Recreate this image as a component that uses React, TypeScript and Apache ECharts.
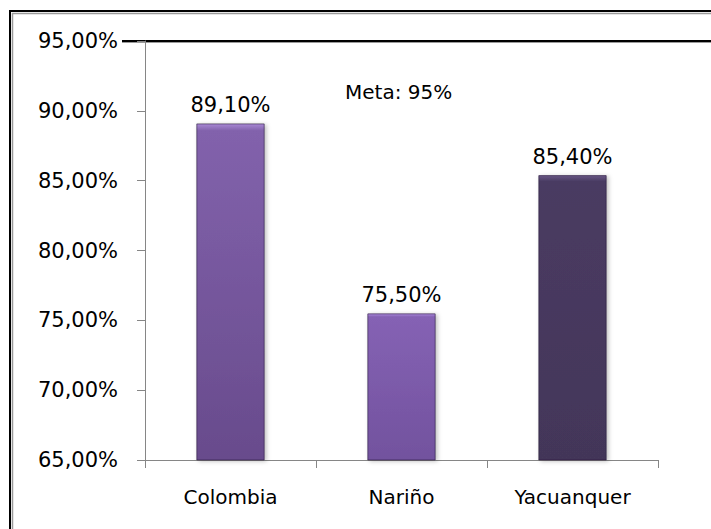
import React, { useEffect, useRef } from "react";
import * as echarts from "echarts";

const categories = ["Colombia", "Nariño", "Yacuanquer"];
const values = [89.1, 75.5, 85.4];
const metaValue = 95;
const metaLabel = "Meta: 95%";
const yMin = 65;
const yMax = 95;
const yInterval = 5;

const barColors = [
  ["#a888d4", "#8262ac", "#684b8c"],
  ["#ac8ade", "#8562b4", "#72529e"],
  ["#6a5886", "#4a3b62", "#433659"],
];

const fmt = (v: number) => v.toFixed(2).replace(".", ",") + "%";

export default function App() {
  const ref = useRef<HTMLDivElement>(null);
  useEffect(() => {
    if (!ref.current) return;
    const chart = echarts.init(ref.current, undefined, { renderer: "svg" });
    const font = "'DejaVu Sans', Verdana, sans-serif";
    const option: any = {
      animation: false,
      backgroundColor: "#ffffff",
      grid: { left: 145, right: 53, top: 41, bottom: 69, containLabel: false },
      xAxis: {
        type: "category",
        data: categories,
        boundaryGap: true,
        axisLine: { lineStyle: { color: "#868686", width: 1 } },
        axisTick: { show: true, length: 8, lineStyle: { color: "#868686" }, alignWithLabel: false },
        axisLabel: { color: "#000", fontSize: 20, fontFamily: font, margin: 27 },
      },
      yAxis: {
        type: "value",
        min: yMin,
        max: yMax,
        interval: yInterval,
        axisLine: { show: true, lineStyle: { color: "#868686", width: 1 } },
        axisTick: { show: true, length: 8, lineStyle: { color: "#868686" } },
        splitLine: { show: false },
        axisLabel: { color: "#000", fontSize: 21, fontFamily: font, margin: 27, formatter: (v: number) => fmt(v) },
      },
      series: [
        {
          type: "bar",
          barWidth: "40%",
          data: values.map((v, i) => ({
            value: v,
            itemStyle: {
              color: new echarts.graphic.LinearGradient(0, 0, 0, 1, [
                { offset: 0, color: barColors[i][0] },
                { offset: 0.02, color: barColors[i][1] },
                { offset: 1, color: barColors[i][2] },
              ]),
              borderColor: "rgba(40,25,60,0.6)",
              borderWidth: 1,
              shadowColor: "rgba(0,0,0,0.25)",
              shadowBlur: 4,
              shadowOffsetX: 2,
              shadowOffsetY: 1,
            },
          })),
          label: {
            show: true,
            position: "top",
            distance: 8,
            color: "#000",
            fontSize: 21,
            fontFamily: font,
            formatter: (p: any) => fmt(p.value),
          },
        },
      ],
    };
    chart.setOption(option);
    const yMeta = chart.convertToPixel({ yAxisIndex: 0 }, metaValue) as number;
    chart.setOption({
      graphic: [
        { type: "rect", silent: true, shape: { x: 10, y: 11, width: 900, height: 800 }, style: { fill: "none", stroke: "#000", lineWidth: 2 } },
        { type: "rect", silent: true, shape: { x: 12.5, y: 13.5, width: 900, height: 800 }, style: { fill: "none", stroke: "#9a9a9a", lineWidth: 1.5 } },
        { type: "line", silent: true, shape: { x1: 122, y1: yMeta, x2: 720, y2: yMeta }, style: { stroke: "#000", lineWidth: 2 } },
        { type: "line", silent: true, shape: { x1: 122, y1: yMeta + 1.5, x2: 720, y2: yMeta + 1.5 }, style: { stroke: "#9a9a9a", lineWidth: 1 } },
        { type: "text", silent: true, x: 345, y: 92, style: { text: metaLabel, fill: "#000", fontSize: 20, fontFamily: font, verticalAlign: "middle" } },
      ],
    });
    return () => chart.dispose();
  }, []);
  return <div ref={ref} style={{ position: "fixed", left: 0, top: 0, width: 711, height: 529 }} />;
}
